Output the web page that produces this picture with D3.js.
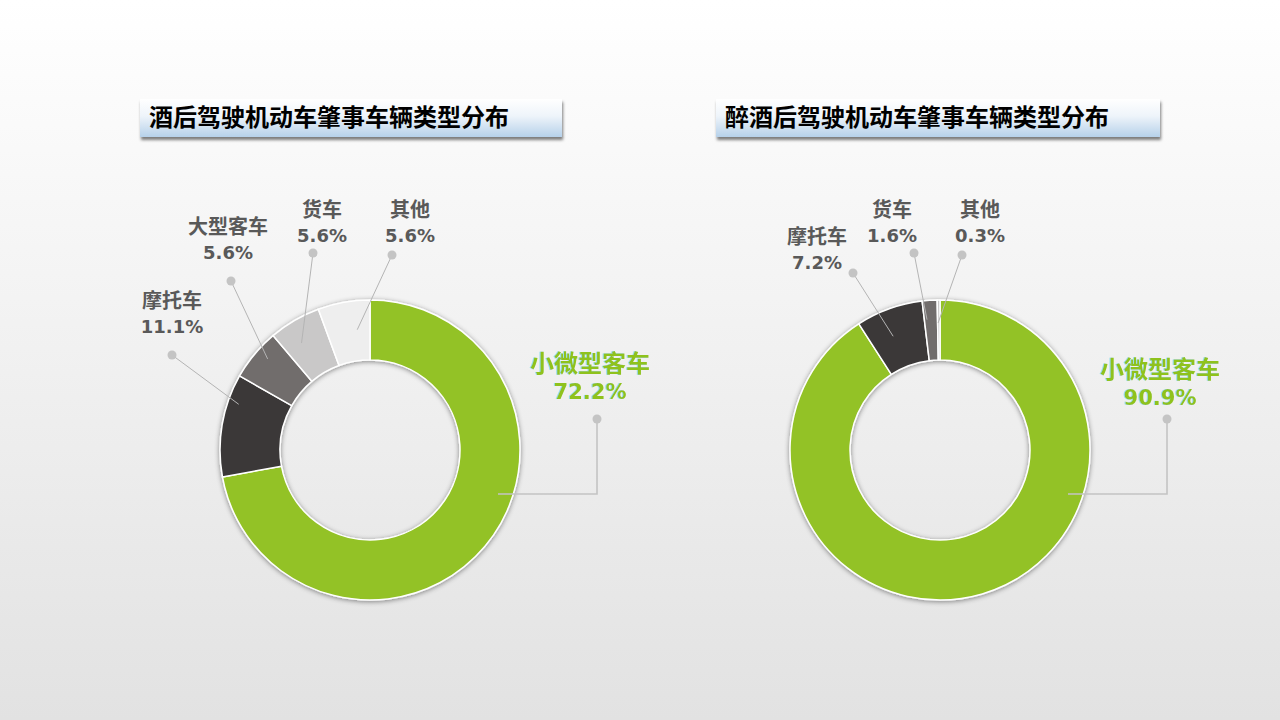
<!DOCTYPE html>
<html><head><meta charset="utf-8">
<script src="https://cdn.jsdelivr.net/npm/d3@7"></script>
<style>html,body{margin:0;padding:0;background:#fff;}svg{display:block;}</style>
</head><body>
<script>
// ---- data ----
const titles = ["酒后驾驶机动车肇事车辆类型分布", "醉酒后驾驶机动车肇事车辆类型分布"];
const categories1 = ["小微型客车", "摩托车", "大型客车", "货车", "其他"];
const values1 = [72.2, 11.1, 5.6, 5.6, 5.6];
const categories2 = ["小微型客车", "摩托车", "货车", "其他"];
const values2 = [90.9, 7.2, 1.6, 0.3];
const colors1 = ["#93c225", "#3b3938", "#716d6c", "#c9c8c8", "#eeeeee"];
const colors2 = ["#93c225", "#3b3938", "#716d6c", "#c9c8c8"];

// ---- layout (styles / positions) ----
const W = 1280, H = 720;
const charts = [
  { cx: 370, cy: 450, cats: categories1, vals: values1, colors: colors1,
    title: titles[0], box: [140, 99, 422, 38],
    labels: [
      { lx: 590, ly: 363, dot: [597, 419], path: "elbow", endX: 498, endY: 494, big: true },
      { lx: 172, ly: 300, dot: [172, 355], frac: 0.74, r: 139 },
      { lx: 228, ly: 226, dot: [231, 281], frac: 0.6, r: 137 },
      { lx: 322, ly: 209, dot: [313, 253], frac: 0.38, r: 127 },
      { lx: 410, ly: 209, dot: [392, 255], frac: 0.7, r: 121 }
    ] },
  { cx: 940, cy: 450, cats: categories2, vals: values2, colors: colors2,
    title: titles[1], box: [716, 99, 444, 38],
    labels: [
      { lx: 1160, ly: 369, dot: [1167, 419], path: "elbow", endX: 1068, endY: 494, big: true },
      { lx: 817, ly: 236, dot: [853, 273], frac: 0.4, r: 123 },
      { lx: 892, ly: 209, dot: [914, 253], frac: 0.2, r: 131 },
      { lx: 980, ly: 209, dot: [962, 255], frac: 0.2, r: 127 }
    ] }
];
const outerR = 150, innerR = 90;

const svg = d3.select("body").append("svg").attr("width", W).attr("height", H);
const defs = svg.append("defs");
const bg = defs.append("linearGradient").attr("id", "bg").attr("x1", 0).attr("y1", 0).attr("x2", 0).attr("y2", 1);
bg.append("stop").attr("offset", "0%").attr("stop-color", "#ffffff");
bg.append("stop").attr("offset", "100%").attr("stop-color", "#e2e2e2");
const tg = defs.append("linearGradient").attr("id", "tg").attr("x1", 0).attr("y1", 0).attr("x2", 0).attr("y2", 1);
tg.append("stop").attr("offset", "0%").attr("stop-color", "#ffffff");
tg.append("stop").attr("offset", "45%").attr("stop-color", "#eef4fa");
tg.append("stop").attr("offset", "100%").attr("stop-color", "#b6d1ea");
const sh = defs.append("filter").attr("id", "sh").attr("x", "-20%").attr("y", "-20%").attr("width", "140%").attr("height", "140%");
sh.append("feDropShadow").attr("dx", 0).attr("dy", 1).attr("stdDeviation", 2.5).attr("flood-color", "#000").attr("flood-opacity", 0.45);
const tsh = defs.append("filter").attr("id", "tsh").attr("x", "-10%").attr("y", "-30%").attr("width", "120%").attr("height", "180%");
tsh.append("feDropShadow").attr("dx", 1).attr("dy", 3).attr("stdDeviation", 1.5).attr("flood-color", "#000").attr("flood-opacity", 0.5);
const gsh = defs.append("filter").attr("id", "gsh");
gsh.append("feDropShadow").attr("dx", -1).attr("dy", 0).attr("stdDeviation", 0.3).attr("flood-color", "#5fd0e8").attr("flood-opacity", 0.6);

svg.append("rect").attr("width", W).attr("height", H).attr("fill", "url(#bg)");

const pie = d3.pie().sort(null).value(d => d);
const arc = d3.arc().innerRadius(innerR).outerRadius(outerR);

charts.forEach(c => {
  // title box
  const [bx, by, bw, bh] = c.box;
  svg.append("rect").attr("x", bx).attr("y", by).attr("width", bw).attr("height", bh)
    .attr("fill", "url(#tg)").attr("filter", "url(#tsh)");
  svg.append("text").attr("x", bx + 9).attr("y", by + bh / 2 + 1)
    .attr("dominant-baseline", "middle")
    .attr("font-family", "'Noto Sans CJK SC', sans-serif").attr("font-weight", "bold")
    .attr("font-size", 24).attr("fill", "#000").text(c.title);

  const arcs = pie(c.vals);
  const g = svg.append("g").attr("transform", `translate(${c.cx},${c.cy})`);
  g.append("g").attr("filter", "url(#sh)")
    .selectAll("path").data(arcs).join("path")
    .attr("d", arc).attr("fill", (d, i) => c.colors[i])
    .attr("stroke", "#fff").attr("stroke-width", 1.5).attr("stroke-linejoin", "round");

  // leader lines & labels
  arcs.forEach((a, i) => {
    const L = c.labels[i];
    let pts;
    if (L.path === "elbow") {
      pts = [[L.dot[0], L.dot[1]], [L.dot[0], L.endY], [L.endX, L.endY]];
    } else {
      const ang = a.startAngle + (a.endAngle - a.startAngle) * L.frac;
      const ex = c.cx + L.r * Math.sin(ang), ey = c.cy - L.r * Math.cos(ang);
      pts = [[L.dot[0], L.dot[1]], [ex, ey]];
    }
    svg.append("path").attr("d", d3.line()(pts)).attr("fill", "none")
      .attr("stroke", L.big ? "#c4c4c4" : "#b4b4b4").attr("stroke-width", L.big ? 1.6 : 1);
    svg.append("circle").attr("cx", L.dot[0]).attr("cy", L.dot[1]).attr("r", 4.5).attr("fill", "#c4c4c4");

    const color = L.big ? "#8fc21f" : "#595959";
    const t = svg.append("text").attr("text-anchor", "middle").attr("font-weight", "bold").attr("fill", color);
    if (L.big) t.attr("filter", "url(#gsh)");
    t.append("tspan").attr("x", L.lx).attr("y", L.ly + (L.big ? 9 : 8))
      .attr("font-family", "'Noto Sans CJK SC', sans-serif")
      .attr("font-size", L.big ? 24 : 20).text(c.cats[i]);
    t.append("tspan").attr("x", L.lx).attr("y", L.ly + (L.big ? 36 : 33))
      .attr("font-family", "'DejaVu Sans', sans-serif")
      .attr("font-size", L.big ? 21 : 18).text(d3.format(".1f")(c.vals[i]) + "%");
  });
});
</script>
</body></html>
